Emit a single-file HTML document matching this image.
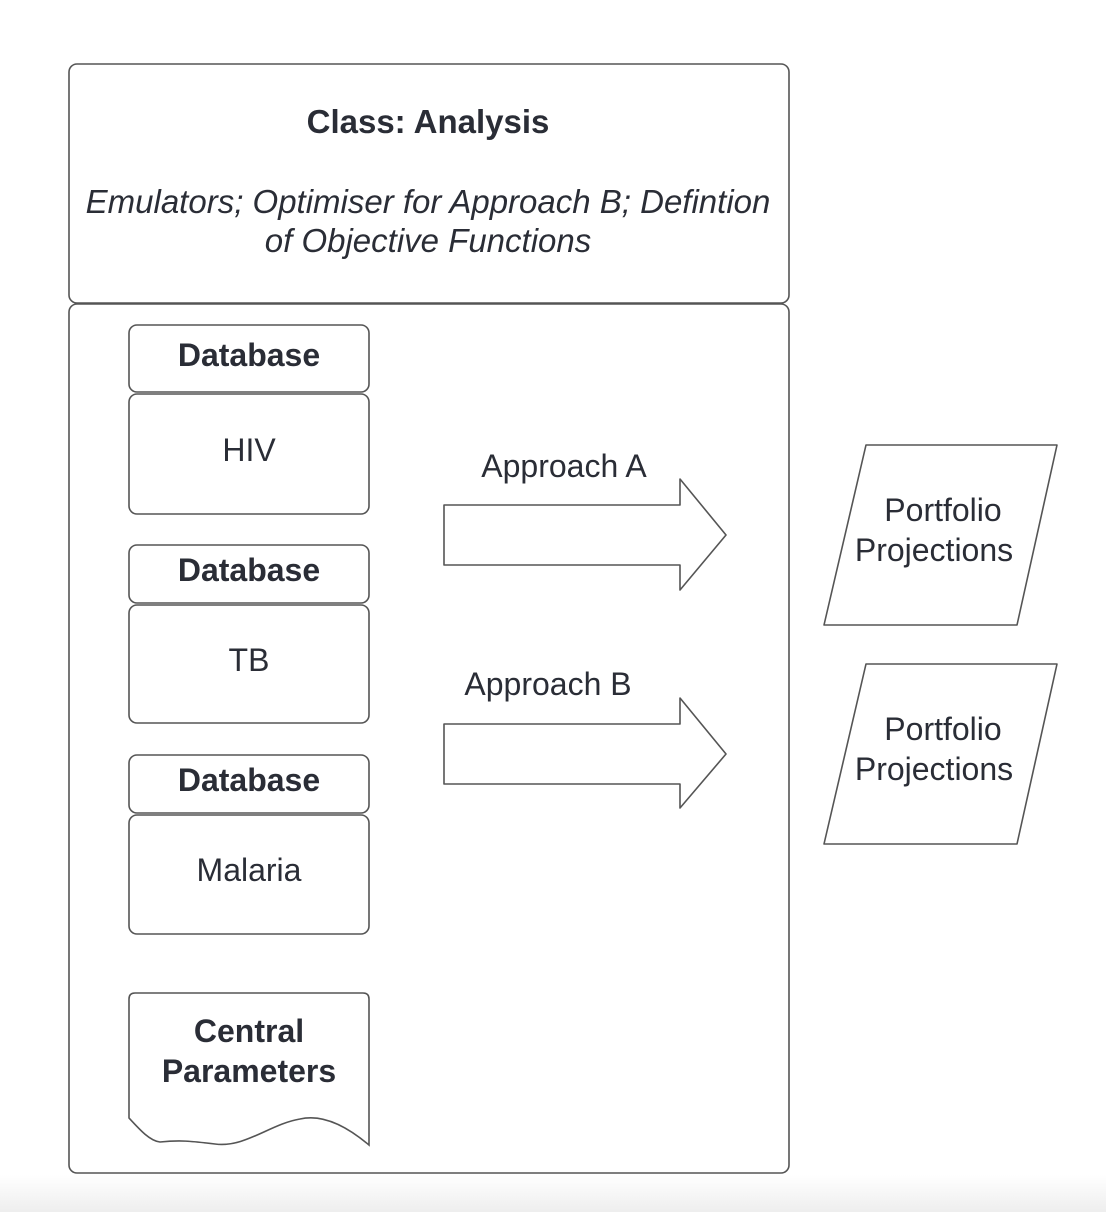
<!DOCTYPE html>
<html><head><style>
body{margin:0;background:#fff;}
text{font-family:"Liberation Sans",sans-serif;fill:#2a2d36;}
</style></head><body>
<svg width="1106" height="1212" viewBox="0 0 1106 1212" xmlns="http://www.w3.org/2000/svg">
<defs><linearGradient id="g" x1="0" y1="0" x2="0" y2="1"><stop offset="0" stop-color="#fff"/><stop offset="1" stop-color="#eee"/></linearGradient></defs>
<rect x="0" y="1175" width="1106" height="37" fill="url(#g)"/>
<g fill="#fff" stroke="#555" stroke-width="1.6">
<rect x="69" y="64" width="720" height="239" rx="8"/>
<rect x="69" y="304" width="720" height="869" rx="8"/>
<rect x="129" y="325" width="240" height="67" rx="8"/>
<rect x="129" y="394" width="240" height="120" rx="8"/>
<rect x="129" y="545" width="240" height="58" rx="8"/>
<rect x="129" y="605" width="240" height="118" rx="8"/>
<rect x="129" y="755" width="240" height="58" rx="8"/>
<rect x="129" y="815" width="240" height="119" rx="8"/>
<path d="M135 993 H363 Q369 993 369 999 V1145 Q330 1112 300 1119 C270 1124 245 1148 215 1144 C190 1141 180 1140 160 1142 C150 1141 140 1130 129 1118 V999 Q129 993 135 993 Z"/>
<path d="M444 505 H680 V479 L726 535 L680 590 V565 H444 Z" stroke-linejoin="round"/>
<path d="M444 724 H680 V698 L726 754 L680 808 V784 H444 Z" stroke-linejoin="round"/>
<path d="M866 445 H1057 L1017 625 H824 Z" stroke-linejoin="round"/>
<path d="M866 664 H1057 L1017 844 H824 Z" stroke-linejoin="round"/>
</g>
<g text-anchor="middle" font-size="32">
<text x="428" y="133" font-weight="bold" font-size="33">Class: Analysis</text>
<text x="428" y="213" font-style="italic" font-size="33">Emulators; Optimiser for Approach B; Defintion</text>
<text x="428" y="252" font-style="italic" font-size="33">of Objective Functions</text>
<text x="249" y="366" font-weight="bold">Database</text>
<text x="249" y="461">HIV</text>
<text x="249" y="581" font-weight="bold">Database</text>
<text x="249" y="671">TB</text>
<text x="249" y="791" font-weight="bold">Database</text>
<text x="249" y="881">Malaria</text>
<text x="249" y="1042" font-weight="bold">Central</text>
<text x="249" y="1082" font-weight="bold">Parameters</text>
<text x="564" y="477">Approach A</text>
<text x="548" y="695">Approach B</text>
<text x="943" y="521">Portfolio</text>
<text x="934" y="561">Projections</text>
<text x="943" y="740">Portfolio</text>
<text x="934" y="780">Projections</text>
</g>
</svg>
</body></html>
